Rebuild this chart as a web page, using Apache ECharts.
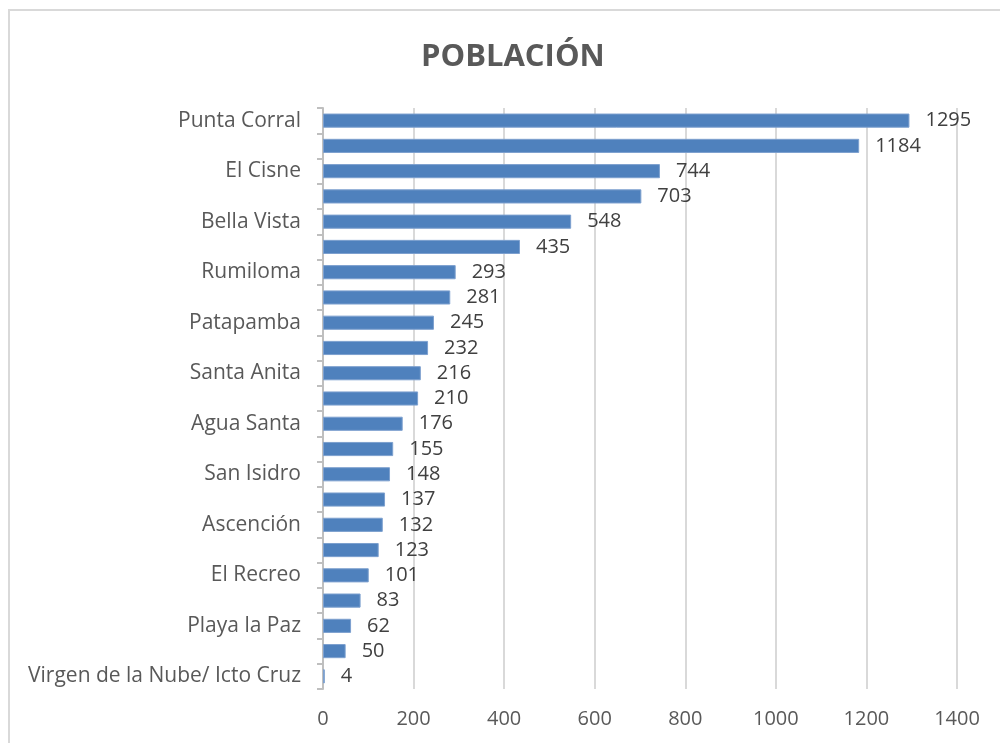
<!DOCTYPE html>
<html>
<head>
    <meta charset="UTF-8">
    <title>POBLACIÓN</title>
    <script src="https://cdn.jsdelivr.net/npm/echarts@6/dist/echarts.min.js"></script>
    <style>
        body { margin: 0; background: #fff; }
        #chart { width: 1000px; height: 743px; }
    </style>
</head>
<body>
<div id="chart"></div>
<script type="text/javascript">

    // comunidades (solo se ven una de cada dos etiquetas en el original)
    var comunidades = [
        'Punta Corral', '', 'El Cisne', '', 'Bella Vista', '', 'Rumiloma', '',
        'Patapamba', '', 'Santa Anita', '', 'Agua Santa', '', 'San Isidro', '',
        'Ascención', '', 'El Recreo', '', 'Playa la Paz', '', 'Virgen de la Nube/ Icto Cruz'
    ];
    var poblacion = [1295, 1184, 744, 703, 548, 435, 293, 281, 245, 232, 216, 210,
        176, 155, 148, 137, 132, 123, 101, 83, 62, 50, 4];

    var fuente = '"Open Sans", sans-serif';

    var myChart = echarts.init(document.getElementById('chart'));

    myChart.setOption({
        animation: false,
        title: {
            text: 'POBLACIÓN',
            left: 416,
            top: 37,
            textStyle: {fontSize: 31, fontWeight: 'bold', color: '#595959', fontFamily: fuente}
        },
        graphic: [{
            type: 'rect',
            shape: {x: 9, y: 10, width: 1000, height: 800},
            style: {fill: 'none', stroke: '#d9d9d9', lineWidth: 2}
        }],
        grid: {left: 323, right: 43, top: 108, bottom: 54},
        xAxis: {
            type: 'value',
            min: 0,
            max: 1400,
            interval: 200,
            axisLine: {show: false},
            axisTick: {show: false},
            splitLine: {lineStyle: {color: '#d9d9d9', width: 2}},
            axisLabel: {
                fontSize: 20, color: '#595959', margin: 20, fontFamily: fuente,
                formatter: function (v) { return String(v); }
            }
        },
        yAxis: {
            type: 'category',
            inverse: true,
            data: comunidades,
            axisLine: {lineStyle: {color: '#bfbfbf', width: 2}},
            axisTick: {show: true, length: 6, lineStyle: {color: '#bfbfbf', width: 2}},
            axisLabel: {interval: 0, fontSize: 21, color: '#595959', margin: 22, fontFamily: fuente}
        },
        series: [{
            type: 'bar',
            data: poblacion,
            barWidth: '56%',
            itemStyle: {color: '#4f81bd', borderColor: '#7da0cf', borderWidth: 1},
            label: {
                show: true,
                position: 'right',
                distance: 16,
                fontSize: 20,
                color: '#404040',
                fontFamily: fuente
            }
        }]
    });
</script>
</body>
</html>
